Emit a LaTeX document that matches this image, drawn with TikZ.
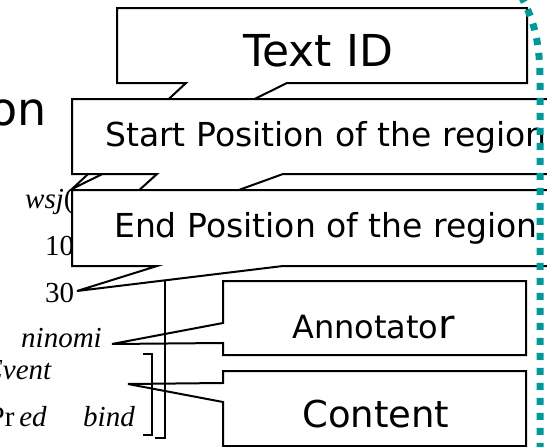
\documentclass[tikz,border=0pt]{standalone}
\usepackage{fontspec}
\setmainfont{DejaVu Sans}
\newfontfamily\lblserif{Liberation Serif}
\definecolor{dotteal}{RGB}{0,153,153}
\newcommand{\fsz}[1]{\fontsize{#1}{#1}\selectfont}
\begin{document}
\begin{tikzpicture}[x=1pt,y=-1pt,
  callout/.style={draw=black,line width=2pt,fill=white,line join=miter},
  brk/.style={draw=black,line width=1.2pt},
  boxtext/.style={anchor=base west,inner sep=0pt},
  src/.style={inner sep=0pt,font=\lblserif\fsz{29}},
  tealdots/.style={draw=dotteal,line width=7pt,dash pattern=on 7pt off 8pt}]
\useasboundingbox (0,0) rectangle (547,447);
\begin{scope}
\clip (0,0) rectangle (547,447);

% annotated source text on the left
\node[anchor=base east,inner sep=0pt,font=\fsz{46}] (title) at (47,125) {on};
\node[src,anchor=base west] (wsj) at (25,208) {\textit{wsj}(};
\node[src,anchor=base west] (ten) at (45,255) {10};
\node[src,anchor=base west] (thirty) at (45,302) {30};
\node[src,anchor=base east] (ninomi) at (102,347) {\textit{ninomi}};
\node[src,anchor=base east] (event) at (52,379) {\textit{Event}};
\node[src,anchor=base east] (pred) at (47,426) {Pr\,\textit{ed}};
\node[src,anchor=base west] (bind) at (83,426) {\textit{bind}};

% pointer tips of the callouts
\coordinate (tidtip) at (72,189);
\coordinate (sttip) at (73,250);
\coordinate (endtip) at (77,291);
\coordinate (anntip) at (112,344);
\coordinate (contip) at (128,384);

% callouts
\draw[callout] (117,8) -- (527,8) -- (527,83) -- (287,83) -- (tidtip) -- (186,83) -- (117,83) -- cycle;
\node[boxtext,font=\fsz{44}] (tid) at (243,66) {Text ID};

\draw[callout] (72,99) -- (565,99) -- (565,174) -- (283,174) -- (sttip) -- (157,174) -- (72,174) -- cycle;
\node[boxtext,font=\fsz{33}] (start) at (105,146) {Start Position of the region};

\draw[callout] (72,190) -- (565,190) -- (565,266) -- (283,266) -- (endtip) -- (157,266) -- (72,266) -- cycle;
\node[boxtext,font=\fsz{33}] (end) at (114,237) {End Position of the region};

\draw[callout] (223,281) -- (526,281) -- (526,355) -- (223,355) -- (223,343) -- (anntip) -- (223,323) -- cycle;
\node[boxtext,font=\fsz{32}] (ann) at (292,338) {Annotato{\fsz{40}r}};

\draw[callout] (223,371) -- (526,371) -- (526,446) -- (223,446) -- (223,402) -- (contip) -- (223,383) -- cycle;
\node[boxtext,font=\fsz{37}] (con) at (302,427) {Content};

% brackets grouping the predicate lines
\draw[brk] (143,354) -- (152,354) -- (152,435) -- (143,435);
\draw[brk] (165,280) -- (165,438) -- (155,438);

% dotted frame edge
\draw[tealdots] (521,-4) .. controls (535,22) and (540,45) .. (540,80) -- (540,455);
\end{scope}
\end{tikzpicture}
\end{document}
